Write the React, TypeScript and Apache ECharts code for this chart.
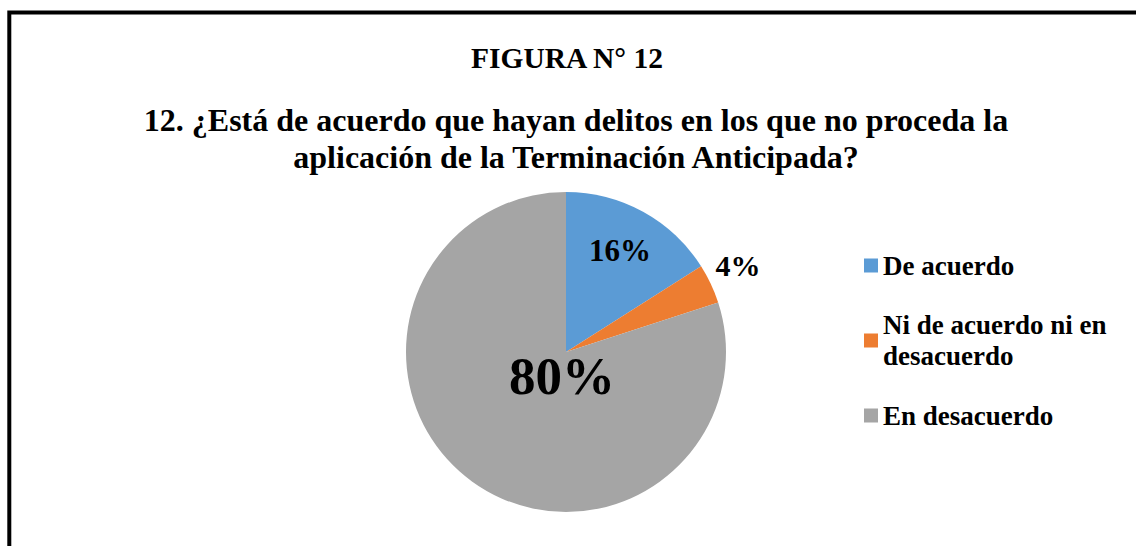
import React, { useEffect, useRef } from "react";
import * as echarts from "echarts";

const categories = ["De acuerdo", "Ni de acuerdo ni en desacuerdo", "En desacuerdo"];
const values = [16, 4, 80];
const colors = ["#5B9BD5", "#ED7D31", "#A5A5A5"];
const figureTitle = "FIGURA N° 12";
const questionTitle =
  "12. ¿Está de acuerdo que hayan delitos en los que no proceda la\naplicación de la Terminación Anticipada?";

const FONT = "'Liberation Serif', 'Times New Roman', serif";

export default function App() {
  const ref = useRef<HTMLDivElement>(null);

  useEffect(() => {
    document.body.style.margin = "0";
    if (!ref.current) return;
    const chart = echarts.init(ref.current, null, { renderer: "svg" });

    const labelPos = [
      { x: 620, y: 250 },
      { x: 738, y: 265 },
      { x: 562, y: 376 },
    ];
    const labelSizes = [31, 30, 53];

    chart.setOption({
      animation: false,
      backgroundColor: "#ffffff",
      color: colors,
      title: [
        {
          text: figureTitle,
          left: 567,
          textAlign: "center",
          top: 42,
          padding: 0,
          textStyle: {
            fontFamily: FONT,
            fontWeight: "bold",
            fontSize: 29.5,
            lineHeight: 32,
            color: "#000",
          },
        },
        {
          text: questionTitle,
          left: 576,
          textAlign: "center",
          top: 101,
          padding: 0,
          textStyle: {
            fontFamily: FONT,
            fontWeight: "bold",
            fontSize: 32,
            lineHeight: 37,
            color: "#000",
          },
        },
      ],
      graphic: [
        {
          type: "rect",
          shape: { x: 9.3, y: 12.4, width: 1300, height: 700 },
          style: { fill: "none", stroke: "#000", lineWidth: 4 },
          silent: true,
        },
      ],
      legend: {
        orient: "vertical",
        left: 864,
        top: 250,
        padding: 0,
        itemGap: 13,
        itemWidth: 14,
        itemHeight: 14,
        icon: "rect",
        selectedMode: false,
        data: categories.map((name, i) => ({
          name,
          textStyle: i === 1 ? { padding: [31, 0, 0, 0] } : {},
        })),
        formatter: (name: string) =>
          name === categories[1] ? "Ni de acuerdo ni en\ndesacuerdo" : name,
        textStyle: {
          fontFamily: FONT,
          fontWeight: "bold",
          fontSize: 27,
          lineHeight: 31,
          color: "#000",
        },
      },
      series: [
        {
          type: "pie",
          center: [566, 352],
          radius: 160,
          startAngle: 90,
          clockwise: true,
          silent: true,
          itemStyle: { borderWidth: 0 },
          labelLine: { show: false },
          data: categories.map((name, i) => ({
            name,
            value: values[i],
            label: {
              show: true,
              position: i === 1 ? "outside" : "inside",
              formatter: "{c}%",
              fontFamily: FONT,
              fontWeight: "bold",
              fontSize: labelSizes[i],
              color: "#000",
            },
            labelLine: { show: false },
          })),
          labelLayout: (params: any) => ({
            x: labelPos[params.dataIndex].x,
            y: labelPos[params.dataIndex].y,
            align: "center",
            verticalAlign: "middle",
          }),
        },
      ],
    });

    return () => chart.dispose();
  }, []);

  return <div ref={ref} style={{ width: 1136, height: 546 }} />;
}
